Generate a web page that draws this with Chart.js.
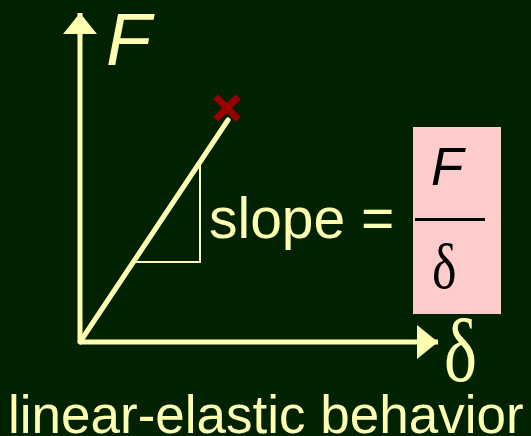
<!DOCTYPE html>
<html>
<head>
<meta charset="utf-8">
<script src="https://cdn.jsdelivr.net/npm/chart.js@4"></script>
<style>
  html, body { margin:0; padding:0; background:#002200; }
  #grafico { display:block; }
</style>
</head>
<body>
<canvas id="grafico" width="531" height="436"></canvas>
<script>
// eje delta y eje F (valores en unidades del dibujo)
const ejeDelta = [0, 3.58];
const ejeF = [0, 3.29];
// recta elastica hasta la rotura
const rectaDelta = [0, 1.48];
const rectaF = [0, 2.22];
// punto de rotura
const roturaDelta = [1.47];
const roturaF = [2.34];
// triangulo de la pendiente
const trianguloDelta = [0.54, 1.2, 1.2];
const trianguloF = [0.8, 0.8, 1.8];

const amarillo = "#ffffb0";

function puntos(xs, ys){
    return xs.map((x,i)=>({x:x, y:ys[i]}));
}

function textoEstirado(ctx, txt, x, y, sy){
    ctx.save();
    ctx.translate(x, y);
    ctx.scale(1, sy);
    ctx.fillText(txt, 0, 0);
    ctx.restore();
}

const flechas = {
    id:"flechas",
    afterDatasetsDraw(chart){
        const ctx = chart.ctx;
        const sx = chart.scales.x;
        const sy = chart.scales.y;
        const ox = sx.getPixelForValue(0);
        const oy = sy.getPixelForValue(0);
        ctx.save();
        ctx.fillStyle = amarillo;
        // flecha vertical
        const ty = sy.getPixelForValue(ejeF[1]);
        ctx.beginPath();
        ctx.moveTo(ox, ty);
        ctx.lineTo(ox+17, ty+21);
        ctx.lineTo(ox-17, ty+21);
        ctx.closePath();
        ctx.fill();
        // flecha horizontal
        const tx = sx.getPixelForValue(ejeDelta[1]);
        ctx.beginPath();
        ctx.moveTo(tx, oy);
        ctx.lineTo(tx-21, oy-17);
        ctx.lineTo(tx-21, oy+17);
        ctx.closePath();
        ctx.fill();

        // textos
        ctx.fillStyle = amarillo;
        ctx.textBaseline = "alphabetic";
        ctx.font = "italic 74px 'Liberation Sans', Arial, sans-serif";
        ctx.fillText("F", 106, 65);
        ctx.font = "57px 'Liberation Sans', Arial, sans-serif";
        ctx.fillText("slope =", 209, 238);
        ctx.font = "70px 'Liberation Serif', 'Times New Roman', serif";
        textoEstirado(ctx, "\u03b4", 444, 381, 1.28);
        ctx.font = "53px 'Liberation Sans', Arial, sans-serif";
        ctx.fillText("linear-elastic behavior", 8, 433);

        // caja rosa con F/delta
        ctx.fillStyle = "#ffcccc";
        ctx.fillRect(413, 127, 88, 187);
        ctx.fillStyle = "#000000";
        ctx.fillRect(415, 218, 70, 3);
        ctx.font = "italic 53px 'Liberation Sans', Arial, sans-serif";
        ctx.fillText("F", 431, 185);
        ctx.font = "52px 'Liberation Serif', 'Times New Roman', serif";
        textoEstirado(ctx, "\u03b4", 432, 288, 1.22);
        ctx.restore();
    }
};

new Chart(document.getElementById("grafico"), {
    type:"scatter",
    data:{
        datasets:[
            {data:puntos([0,0],ejeF), showLine:true, borderColor:amarillo, borderWidth:5, pointRadius:0},
            {data:puntos(ejeDelta,[0,0]), showLine:true, borderColor:amarillo, borderWidth:5, pointRadius:0},
            {data:puntos(rectaDelta,rectaF), showLine:true, borderColor:amarillo, borderWidth:5, pointRadius:0, borderCapStyle:"round"},
            {data:puntos(trianguloDelta,trianguloF), showLine:true, borderColor:amarillo, borderWidth:2, pointRadius:0},
            {data:puntos(roturaDelta,roturaF), pointStyle:"crossRot", pointRadius:16, borderWidth:7, borderColor:"#990000", backgroundColor:"#990000"}
        ]
    },
    options:{
        responsive:false,
        animation:false,
        events:[],
        layout:{padding:0, autoPadding:false},
        plugins:{legend:{display:false}, tooltip:{enabled:false}},
        scales:{
            x:{type:"linear", min:-0.8, max:4.51, display:false},
            y:{type:"linear", min:-0.94, max:3.42, display:false}
        }
    },
    plugins:[flechas]
});
</script>
</body>
</html>
